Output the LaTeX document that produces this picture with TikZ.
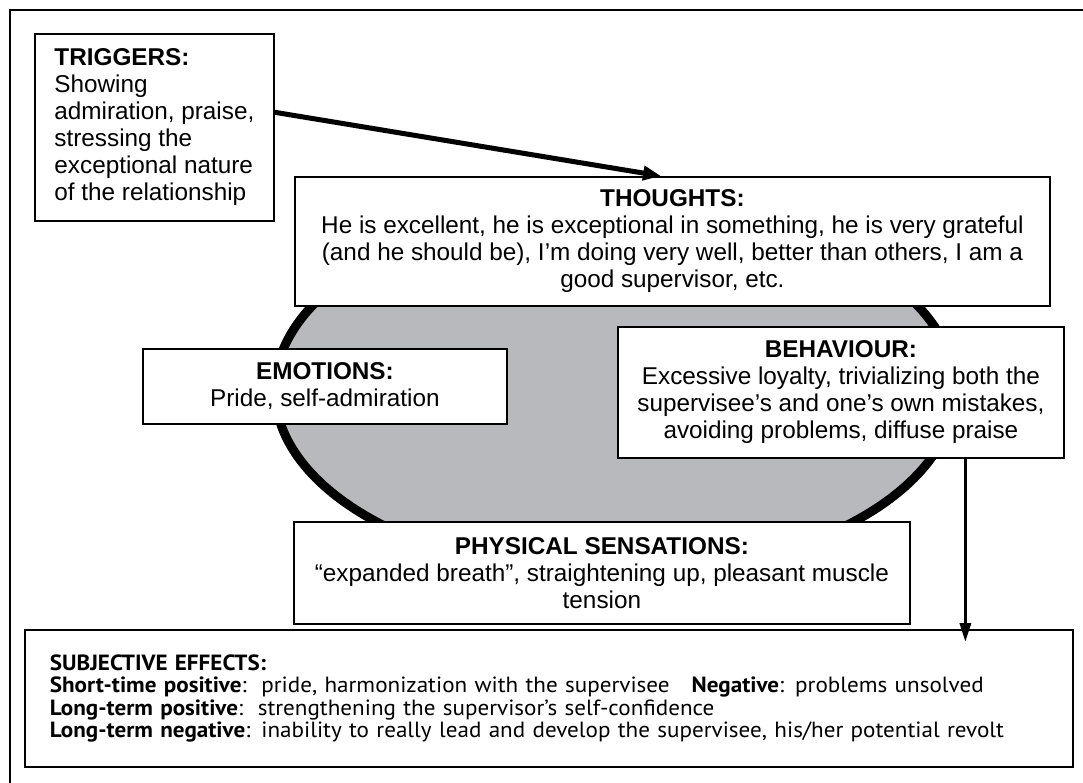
\documentclass[tikz,border=0pt]{standalone}
\usepackage{fontspec}
\setmainfont{Liberation Sans}
\newfontfamily\subjfont{PT Sans}[FakeStretch=1.05]
\usetikzlibrary{arrows.meta,calc}
\definecolor{ellgrey}{RGB}{184,185,189}
\begin{document}
\begin{tikzpicture}[x=1pt,y=-1pt,
  box/.style={draw, line width=1.8pt, fill=white, inner sep=0pt, anchor=north west,
    font=\fontsize{24.3}{27}\selectfont},
  frame/.style={draw, line width=2.5pt},
  bigarrow/.style={line width=5pt, -{Triangle[length=18pt,width=14pt]}},
  downarrow/.style={line width=3.5pt, -{Triangle[length=19pt,width=11pt]}},
  subj/.style={box, align=left, font=\subjfont\fontsize{22}{22.5}\selectfont}]
\useasboundingbox (0,0) rectangle (1083,783);
\draw[frame] (10,10) rectangle (1110,810);
\filldraw[fill=ellgrey, line width=9pt] (615,390) ellipse [x radius=340pt, y radius=185pt];

\node[box, minimum width=239pt, minimum height=187pt, align=left] (trig) at (34,33)
 {\textbf{TRIGGERS:}\\Showing\\admiration, praise,\\stressing the\\exceptional nature\\of the relationship};

\node[box, minimum width=755pt, minimum height=129pt, align=center] (th) at (294,176)
 {\textbf{THOUGHTS:}\\He is excellent, he is exceptional in something, he is very grateful\\(and he should be), I’m doing very well, better than others, I am a\\good supervisor, etc.};

\node[box, minimum width=364pt, minimum height=75pt, align=center] (em) at (142,348)
 {\textbf{EMOTIONS:}\\Pride, self-admiration};

\node[box, minimum width=446pt, minimum height=131pt, align=center] (beh) at (617,326)
 {\textbf{BEHAVIOUR:}\\Excessive loyalty, trivializing both the\\supervisee’s and one’s own mistakes,\\avoiding problems, diffuse praise};

\node[box, minimum width=616pt, minimum height=102pt, align=center] (ph) at (293,521)
 {\textbf{PHYSICAL SENSATIONS:}\\“expanded breath”, straightening up, pleasant muscle\\tension};

\node[subj, minimum width=1048pt, minimum height=137pt, text width=998pt] (sub) at (24,629)
 {\textbf{SUBJECTIVE EFFECTS:}\\
  \textbf{Short-time positive}:\ \ pride, harmonization with the supervisee\ \ \ \textbf{Negative}: problems unsolved\\
  \textbf{Long-term positive}:\ \ strengthening the supervisor’s self-confidence\\
  \textbf{Long-term negative}: inability to really lead and develop the supervisee, his/her potential revolt};

\coordinate (a1) at ($(trig.north east)!0.42!(trig.south east)$);
\coordinate (a2) at ($(th.north west)!0.485!(th.north east)$);
\draw[bigarrow] (a1) -- (a2);
\coordinate (b1) at ($(beh.south west)!0.778!(beh.south east)$);
\draw[downarrow, shorten >=-13pt] (b1) -- (b1 |- sub.north);
\end{tikzpicture}
\end{document}
